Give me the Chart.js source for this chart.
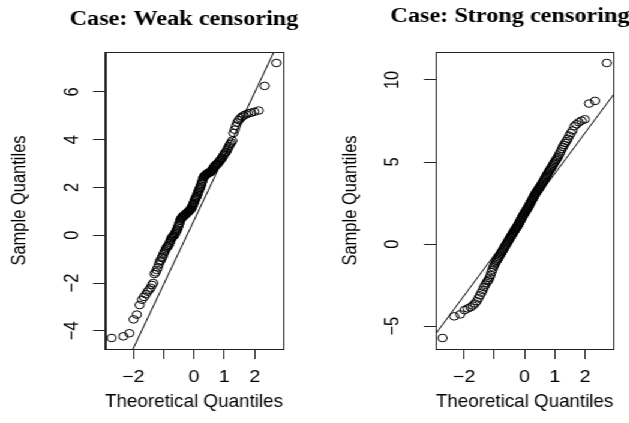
<!DOCTYPE html>
<html>
<head>
<meta charset="utf-8">
<script src="https://cdn.jsdelivr.net/npm/chart.js@4.4.1/dist/chart.umd.min.js"></script>
<style>
  html, body { margin: 0; padding: 0; background: #fff; }
  /* the original figure is stretched horizontally (circles are ellipses) */
  #stage { position: absolute; left: 0; top: 0; width: 524px; height: 423px;
           transform: scaleX(1.2); transform-origin: 0 0; }
  .panel { position: absolute; top: 0; width: 262px; height: 423px; }
</style>
</head>
<body>
<div id="stage">
  <div class="panel" style="left:0"><canvas id="weak"></canvas></div>
  <div class="panel" style="left:262px"><canvas id="strong"></canvas></div>
</div>
<script>
// Theoretical normal quantiles (n = 150), shared by both panels
const theoreticalQuantiles = [
  -2.713, -2.326, -2.128, -1.989, -1.881, -1.791, -1.713, -1.645, -1.583, -1.528,
  -1.476, -1.428, -1.383, -1.341, -1.301, -1.263, -1.227, -1.192, -1.158, -1.126,
  -1.095, -1.065, -1.036, -1.008, -0.981, -0.954, -0.928, -0.903, -0.878, -0.854,
  -0.830, -0.806, -0.783, -0.761, -0.739, -0.717, -0.695, -0.674, -0.654, -0.633,
  -0.613, -0.593, -0.573, -0.553, -0.534, -0.515, -0.496, -0.477, -0.458, -0.440,
  -0.421, -0.403, -0.385, -0.367, -0.349, -0.332, -0.314, -0.297, -0.279, -0.262,
  -0.245, -0.228, -0.210, -0.193, -0.176, -0.160, -0.143, -0.126, -0.109, -0.092,
  -0.075, -0.059, -0.042, -0.025, -0.008,
  0.008, 0.025, 0.042, 0.059, 0.075, 0.092, 0.109, 0.126, 0.143, 0.160,
  0.176, 0.193, 0.210, 0.228, 0.245, 0.262, 0.279, 0.297, 0.314, 0.332,
  0.349, 0.367, 0.385, 0.403, 0.421, 0.440, 0.458, 0.477, 0.496, 0.515,
  0.534, 0.553, 0.573, 0.593, 0.613, 0.633, 0.654, 0.674, 0.695, 0.717,
  0.739, 0.761, 0.783, 0.806, 0.830, 0.854, 0.878, 0.903, 0.928, 0.954,
  0.981, 1.008, 1.036, 1.065, 1.095, 1.126, 1.158, 1.192, 1.227, 1.263,
  1.301, 1.341, 1.383, 1.428, 1.476, 1.528, 1.583, 1.645, 1.713, 1.791,
  1.881, 1.989, 2.128, 2.326, 2.713
];

// Sample quantiles, weak censoring
const weakSample = [
  -4.30, -4.23, -4.10, -3.52, -3.32, -2.92, -2.70, -2.58, -2.47, -2.36,
  -2.28, -2.20, -2.08, -2.00, -1.62, -1.55, -1.45, -1.35, -1.22, -1.10,
  -1.05, -0.95, -0.90, -0.80, -0.72, -0.65, -0.58, -0.52, -0.48, -0.45,
  -0.40, -0.33, -0.25, -0.18, -0.12, -0.08, -0.05, -0.02, 0.00, 0.05,
  0.10, 0.15, 0.20, 0.25, 0.32, 0.38, 0.45, 0.52, 0.60, 0.66,
  0.70, 0.73, 0.76, 0.78, 0.80, 0.82, 0.84, 0.86, 0.88, 0.90,
  0.92, 0.94, 0.96, 0.98, 1.00, 1.02, 1.04, 1.06, 1.09, 1.12,
  1.16, 1.20, 1.25, 1.30, 1.35,
  1.41, 1.47, 1.52, 1.56, 1.60, 1.64, 1.70, 1.76, 1.82, 1.87,
  1.92, 1.97, 2.02, 2.08, 2.15, 2.22, 2.29, 2.36, 2.42, 2.46,
  2.48, 2.50, 2.52, 2.54, 2.56, 2.58, 2.60, 2.61, 2.62, 2.63,
  2.64, 2.66, 2.69, 2.72, 2.76, 2.80, 2.84, 2.88, 2.91, 2.94,
  2.96, 2.98, 3.00, 3.04, 3.08, 3.12, 3.16, 3.20, 3.24, 3.30,
  3.36, 3.42, 3.46, 3.50, 3.58, 3.66, 3.74, 3.82, 3.88, 3.96,
  4.28, 4.42, 4.58, 4.72, 4.82, 4.90, 4.96, 5.02, 5.06, 5.10,
  5.13, 5.17, 5.22, 6.25, 7.21
];

// Sample quantiles, strong censoring
const strongSample = [
  -5.72, -4.40, -4.28, -4.02, -3.92, -3.85, -3.74, -3.62, -3.48, -3.30,
  -3.12, -2.96, -2.80, -2.62, -2.48, -2.36, -2.26, -2.18, -2.05, -1.88,
  -1.70, -1.56, -1.42, -1.30, -1.20, -1.10, -1.02, -0.95, -0.88, -0.80,
  -0.72, -0.64, -0.57, -0.50, -0.43, -0.36, -0.29, -0.22, -0.15, -0.08,
  -0.03, 0.03, 0.09, 0.15, 0.21, 0.27, 0.33, 0.39, 0.45, 0.50,
  0.56, 0.62, 0.67, 0.73, 0.78, 0.83, 0.88, 0.93, 0.98, 1.03,
  1.08, 1.13, 1.18, 1.24, 1.30, 1.36, 1.42, 1.48, 1.54, 1.60,
  1.66, 1.72, 1.77, 1.82, 1.87,
  1.92, 1.97, 2.02, 2.07, 2.12, 2.17, 2.22, 2.27, 2.33, 2.39,
  2.45, 2.51, 2.57, 2.63, 2.69, 2.75, 2.81, 2.87, 2.93, 2.99,
  3.05, 3.10, 3.15, 3.20, 3.25, 3.30, 3.35, 3.40, 3.45, 3.50,
  3.56, 3.62, 3.68, 3.74, 3.80, 3.87, 3.94, 4.01, 4.08, 4.15,
  4.22, 4.29, 4.36, 4.43, 4.50, 4.57, 4.64, 4.72, 4.80, 4.88,
  4.96, 5.04, 5.12, 5.20, 5.30, 5.40, 5.52, 5.64, 5.78, 5.92,
  6.04, 6.16, 6.28, 6.42, 6.60, 6.76, 6.92, 7.18, 7.30, 7.42,
  7.52, 7.60, 8.56, 8.72, 11.03
];

// reference lines: [intercept, slope]
const weakLine = [0.62, 2.68];
const strongLine = [1.82, 2.48];

// axis ranges and tick steps
const xRange = [-2.93, 2.93];
const weakYRange = [-4.76, 7.67];
const strongYRange = [-6.39, 11.70];
const weakYStep = 2;
const strongYStep = 5;
const xHiddenLabels = [-1];

const titles = ['Case: Weak censoring', 'Case: Strong censoring'];
const xTitle = 'Theoretical Quantiles';
const yTitle = 'Sample Quantiles';

const fmt = v => (v < 0 ? '\u2212' + Math.abs(v) : String(v));

// R-style frame around the plot region
const boxPlugin = {
  id: 'plotBox',
  afterDatasetsDraw(chart) {
    const a = chart.chartArea, ctx = chart.ctx;
    ctx.save();
    ctx.strokeStyle = '#222';
    ctx.lineWidth = 1;
    ctx.strokeRect(Math.round(a.left) + 0.5, Math.round(a.top) + 0.5,
                   Math.round(a.right - a.left), Math.round(a.bottom - a.top));
    ctx.restore();
  }
};

// main title (R centres it a little left of the plot box here)
const titlePlugin = {
  id: 'panelTitle',
  afterDraw(chart, args, opts) {
    const ctx = chart.ctx;
    ctx.save();
    ctx.font = 'bold 20.2px "Liberation Serif", "Times New Roman", serif';
    ctx.fillStyle = '#000';
    ctx.textAlign = 'center';
    ctx.textBaseline = 'alphabetic';
    ctx.fillText(opts.text, opts.x, opts.y);
    ctx.restore();
  }
};

function makePanel(id, cfg) {
  const points = theoreticalQuantiles.map((x, i) => ({ x: x, y: cfg.sample[i] }));
  const [a, b] = cfg.line;
  const lineData = [
    { x: xRange[0], y: a + b * xRange[0] },
    { x: xRange[1], y: a + b * xRange[1] }
  ];
  const sans = '"Liberation Sans", Arial, sans-serif';

  return new Chart(document.getElementById(id), {
    type: 'scatter',
    data: {
      datasets: [
        {
          data: lineData,
          showLine: true,
          borderColor: '#000',
          borderWidth: 1,
          pointRadius: 0
        },
        {
          data: points,
          pointStyle: 'circle',
          pointRadius: 3.8,
          pointBorderWidth: 1,
          pointBorderColor: '#000',
          pointBackgroundColor: 'rgba(0,0,0,0)'
        }
      ]
    },
    options: {
      responsive: true,
      maintainAspectRatio: false,
      animation: false,
      layout: { padding: { left: 0, right: cfg.padRight, top: 52, bottom: 0 } },
      plugins: {
        legend: { display: false },
        tooltip: { enabled: false },
        title: { display: false },
        panelTitle: { text: cfg.title, x: cfg.titleX, y: cfg.titleY }
      },
      scales: {
        x: {
          type: 'linear',
          min: xRange[0],
          max: xRange[1],
          afterFit: s => { s.height = 74; },
          grid: { drawOnChartArea: false, drawTicks: true, tickLength: 10, color: '#222' },
          border: { display: true, color: '#222' },
          ticks: {
            stepSize: 1,
            includeBounds: false,
            autoSkip: false,
            maxRotation: 0,
            padding: 9,
            color: '#000',
            font: { family: sans, size: 16.5 },
            callback: v => (xHiddenLabels.includes(v) ? '' : fmt(v))
          },
          title: {
            display: true,
            text: xTitle,
            color: '#000',
            font: { family: sans, size: 18.5 },
            padding: { top: 0, bottom: 10 }
          }
        },
        y: {
          type: 'linear',
          min: cfg.yRange[0],
          max: cfg.yRange[1],
          afterFit: s => { s.width = cfg.yAxisWidth; },
          grid: { drawOnChartArea: false, drawTicks: true, tickLength: 10, color: '#222' },
          border: { display: true, color: '#222' },
          ticks: {
            stepSize: cfg.yStep,
            includeBounds: false,
            autoSkip: false,
            minRotation: 90,
            maxRotation: 90,
            crossAlign: 'center',
            padding: cfg.yTickPad,
            color: '#000',
            font: { family: sans, size: 16.5 },
            callback: v => fmt(v)
          },
          title: {
            display: true,
            text: yTitle,
            color: '#000',
            font: { family: sans, size: 16.5 },
            padding: { top: cfg.yTitlePad, bottom: 0 }
          }
        }
      }
    },
    plugins: [boxPlugin, titlePlugin]
  });
}

makePanel('weak', {
  sample: weakSample, line: weakLine, yRange: weakYRange, yStep: weakYStep,
  title: titles[0], titleX: 153.3, titleY: 24.5,
  yAxisWidth: 87.5, padRight: 26.2, yTickPad: 8, yTitlePad: 6.8
});
makePanel('strong', {
  sample: strongSample, line: strongLine, yRange: strongYRange, yStep: strongYStep,
  title: titles[1], titleX: 163, titleY: 21.5,
  yAxisWidth: 101.3, padRight: 12.9, yTickPad: 16, yTitlePad: 20.4
});
</script>
</body>
</html>
